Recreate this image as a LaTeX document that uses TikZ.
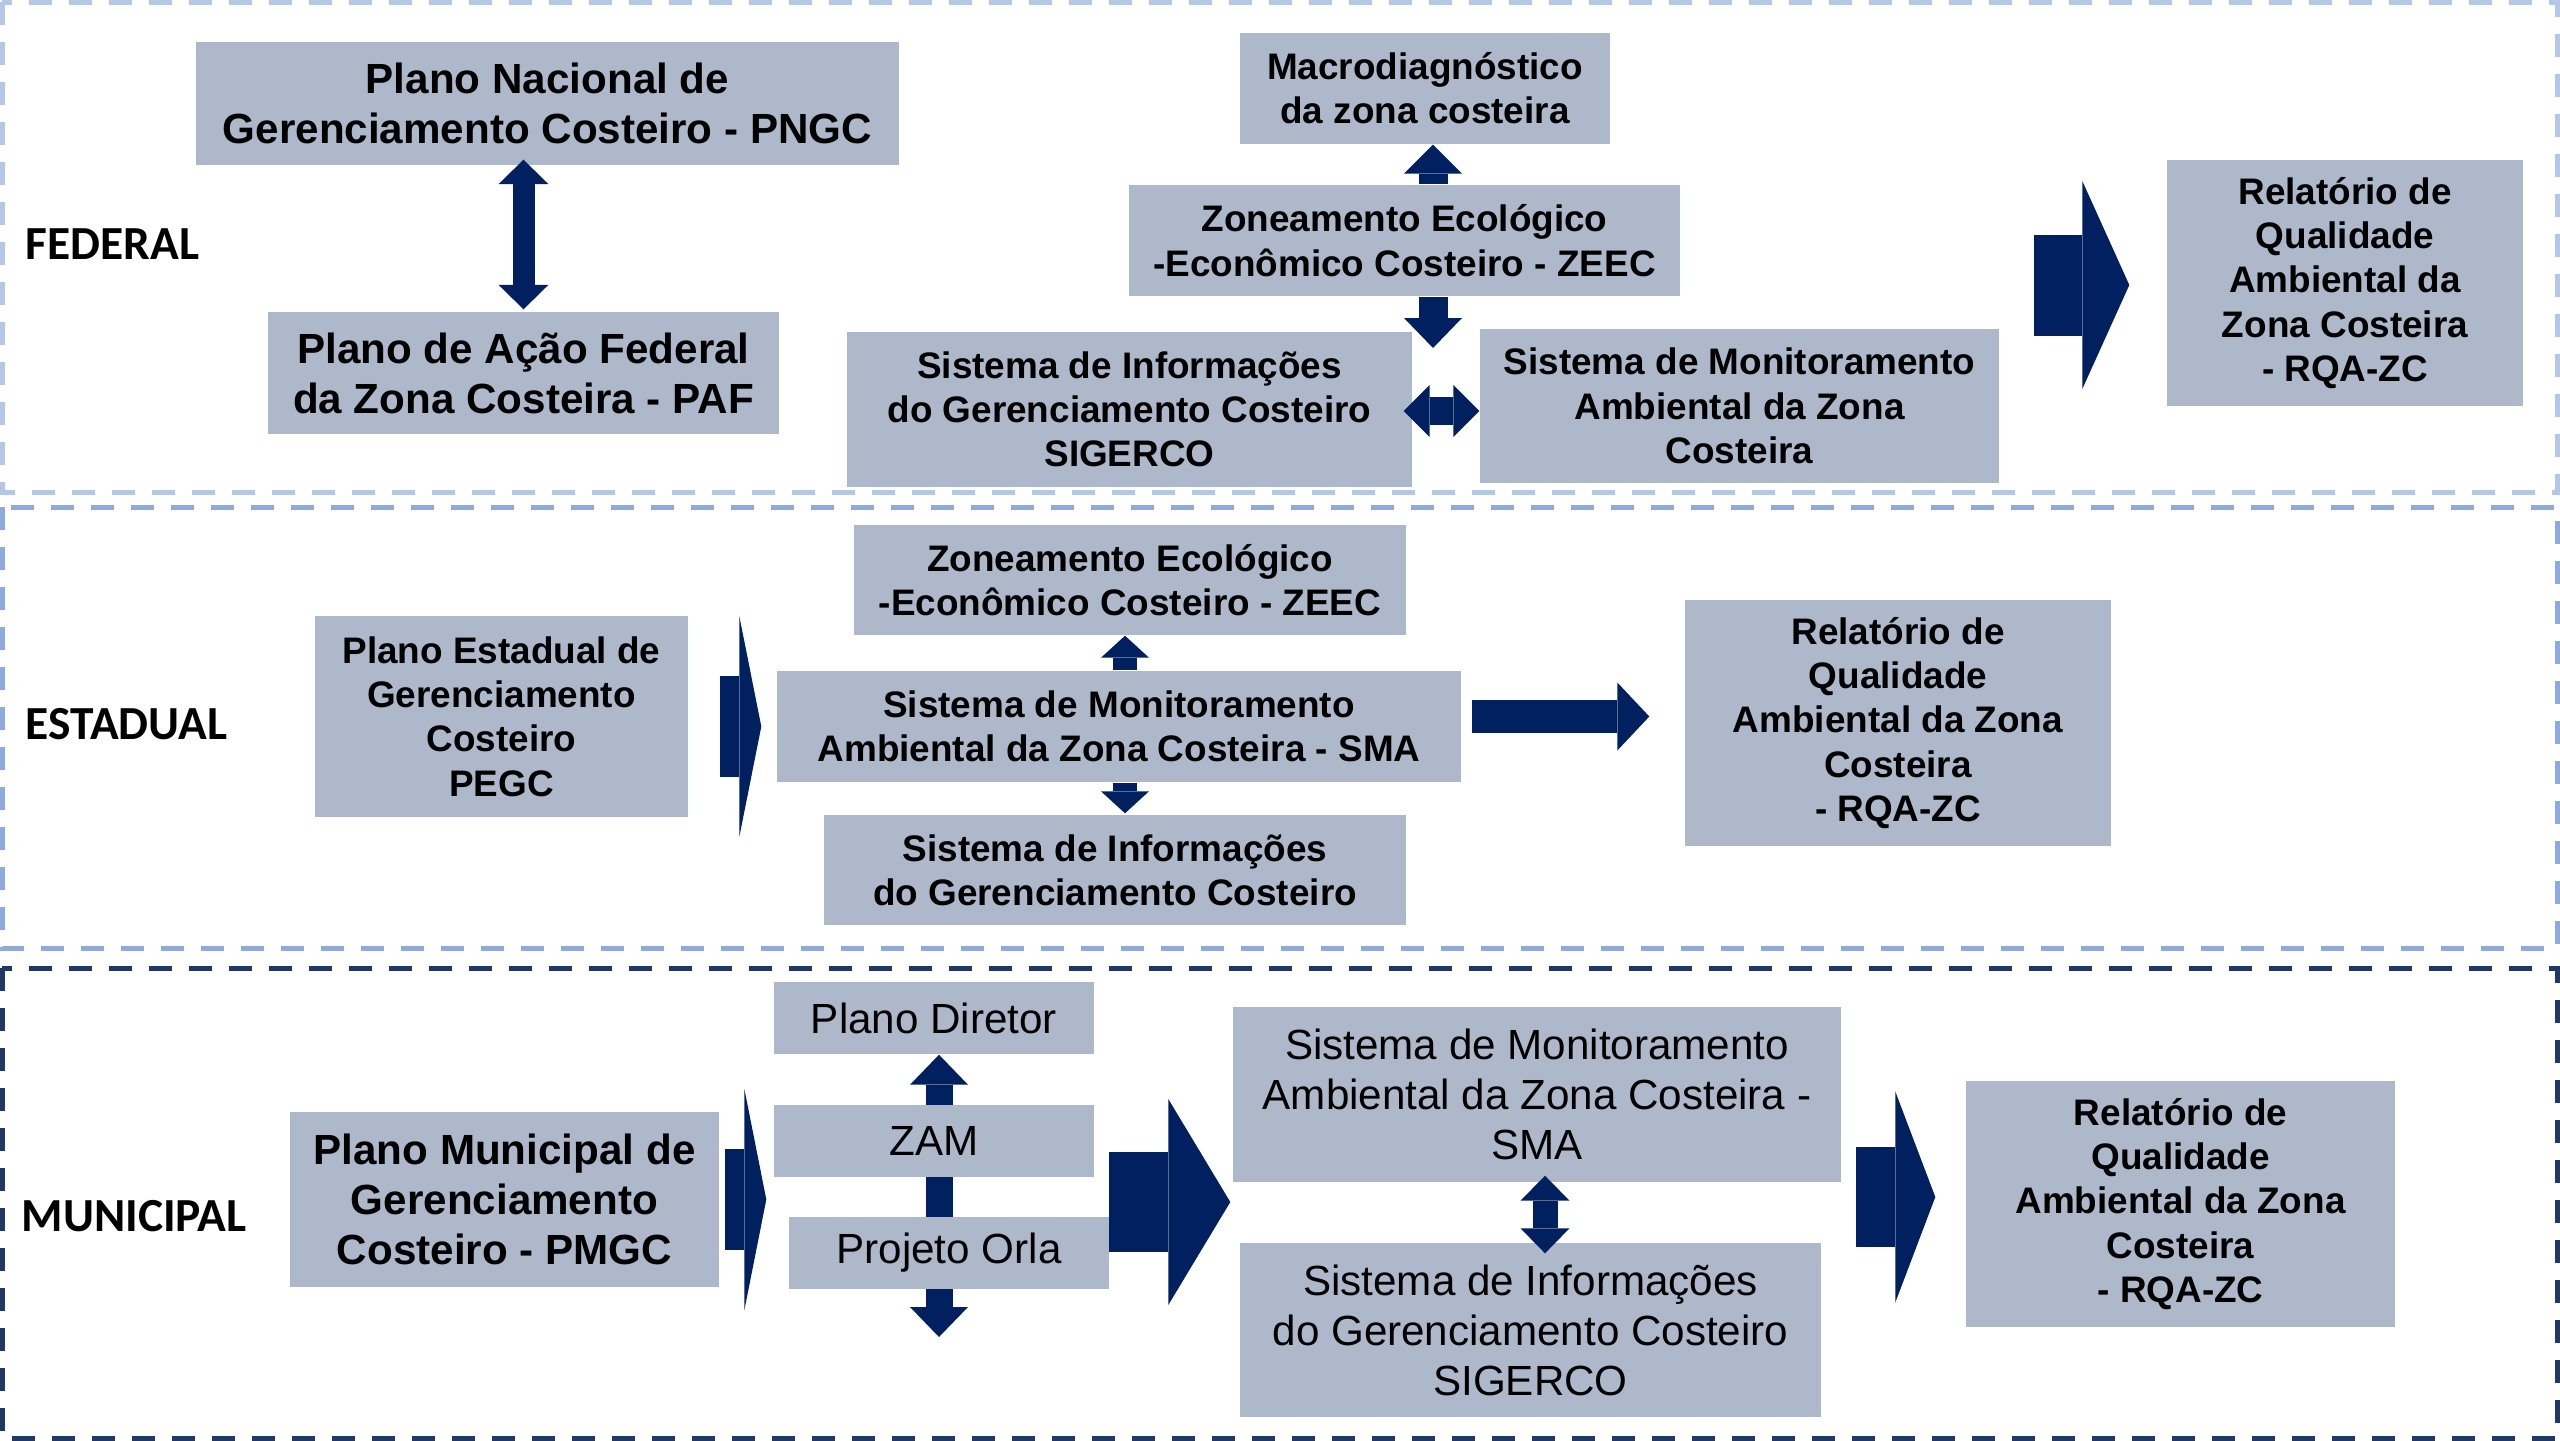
\documentclass[tikz,border=0pt]{standalone}
\usepackage{fontspec}
\setmainfont{Liberation Sans}
\newfontfamily\levelfont{Carlito}
\usepackage{tikz}
\usetikzlibrary{arrows.meta}
\usetikzlibrary{calc}
\usetikzlibrary{positioning, backgrounds}

\definecolor{boxgray}{RGB}{173,185,202}
\definecolor{navy}{RGB}{0,32,96}
\definecolor{fedline}{RGB}{180,199,231}
\definecolor{estline}{RGB}{143,170,220}
\definecolor{munline}{RGB}{32,56,100}

\tikzset{
  box/.style={fill=boxgray, inner sep=0pt, align=center, font=\bfseries\fontsize{10.5}{12.6}\selectfont},
  bigbox/.style={box, font=\bfseries\fontsize{12}{14.2}\selectfont},
  thinbox/.style={box, font=\fontsize{12}{14.2}\selectfont},
  lvl/.style={anchor=west, inner sep=0pt, font=\levelfont\bfseries\fontsize{13.5}{16}\selectfont},
  levelframe/.style={line width=0.05cm, dash pattern=on 0.23cm off 0.17cm},
  blk/.style={draw=navy, line width=#1},
  hd/.style 2 args={-{Triangle[length=#1, width=#2, line width=0pt]}},
  hdd/.style 2 args={{Triangle[length=#1, width=#2, line width=0pt]}-{Triangle[length=#1, width=#2, line width=0pt]}},
}

\begin{document}
\begin{tikzpicture}
    \useasboundingbox (0,0) rectangle (25.6,-14.4);
    \foreach \top/\bot/\col in {0.02/4.92/fedline, 5.07/9.48/estline, 9.68/14.38/munline}{
      \draw[levelframe, draw=\col] (0.02,-\top) rectangle (25.57,-\bot);
    }
    \node[lvl] (fed) at (0.25,-2.44) {FEDERAL};
    \node[lvl] (est) at (0.25,-7.24) {ESTADUAL};
    \node[lvl] (mun) at (0.21,-12.16) {MUNICIPAL};

    % federal
    \node[bigbox, minimum width=7.03cm, minimum height=1.23cm] (pngc) at (5.475,-1.035) {
      Plano Nacional de\\Gerenciamento Costeiro - PNGC};
    \node[bigbox, minimum width=5.11cm, minimum height=1.22cm] (paf) at (5.235,-3.73) {
      Plano de Ação Federal\\da Zona Costeira - PAF};
    \node[box, minimum width=3.70cm, minimum height=1.11cm] (macro) at (14.25,-0.885) {
      Macrodiagnóstico\\da zona costeira};
    \node[box, minimum width=5.51cm, minimum height=1.11cm] (zeecF) at (14.045,-2.405) {
      Zoneamento Ecológico\\-Econômico Costeiro - ZEEC};
    \node[box, minimum width=5.65cm, minimum height=1.55cm] (sigF) at (11.295,-4.095) {
      Sistema de Informações\\do Gerenciamento Costeiro\\SIGERCO};
    \node[box, minimum width=5.19cm, minimum height=1.54cm] (smaF) at (17.395,-4.06) {
      Sistema de Monitoramento\\Ambiental da Zona\\Costeira};
    \node[box, minimum width=3.56cm, minimum height=2.46cm] (rqaF) at (23.45,-2.83) {
      Relatório de\\Qualidade\\Ambiental da\\Zona Costeira\\- RQA-ZC};

    % estadual
    \node[box, minimum width=3.73cm, minimum height=2.01cm] (pegc) at (5.015,-7.165) {
      Plano Estadual de\\Gerenciamento\\Costeiro\\PEGC};
    \node[box, minimum width=5.52cm, minimum height=1.10cm] (zeecE) at (11.30,-5.80) {
      Zoneamento Ecológico\\-Econômico Costeiro - ZEEC};
    \node[box, minimum width=6.84cm, minimum height=1.11cm] (smaE) at (11.19,-7.265) {
      Sistema de Monitoramento\\Ambiental da Zona Costeira - SMA};
    \node[box, minimum width=5.82cm, minimum height=1.10cm] (siE) at (11.15,-8.70) {
      Sistema de Informações\\do Gerenciamento Costeiro};
    \node[box, minimum width=4.26cm, minimum height=2.46cm] (rqaE) at (18.98,-7.23) {
      Relatório de\\Qualidade\\Ambiental da Zona\\Costeira\\- RQA-ZC};

    % municipal
    \node[bigbox, minimum width=4.29cm, minimum height=1.75cm] (pmgc) at (5.045,-11.995) {
      Plano Municipal de\\Gerenciamento\\Costeiro - PMGC};
    \node[thinbox, minimum width=3.20cm, minimum height=0.72cm] (pd) at (9.34,-10.18) {Plano Diretor};
    \node[thinbox, minimum width=3.20cm, minimum height=0.72cm] (zam) at (9.34,-11.41) {ZAM};
    \node[thinbox, minimum width=3.20cm, minimum height=0.72cm] (orla) at (9.49,-12.53) {Projeto Orla};
    \node[thinbox, minimum width=6.08cm, minimum height=1.75cm] (smaM) at (15.37,-10.945) {
      Sistema de Monitoramento\\Ambiental da Zona Costeira -\\SMA};
    \node[thinbox, minimum width=5.81cm, minimum height=1.74cm] (siM) at (15.305,-13.30) {
      Sistema de Informações\\do Gerenciamento Costeiro\\SIGERCO};
    \node[box, minimum width=4.29cm, minimum height=2.46cm] (rqaM) at (21.805,-12.04) {
      Relatório de\\Qualidade\\Ambiental da Zona\\Costeira\\- RQA-ZC};

    \coordinate (zeecTip) at (14.33,-3.48);
    \coordinate (fedIn) at (20.34,-2.85);
    \coordinate (orlaTip) at (9.39,-13.37);
    \coordinate (munIn) at (11.09,-12.02);
    \coordinate (munOut) at (18.56,-11.97);

    % arrows
    \draw[blk=0.22cm, hdd={0.245cm}{0.5cm}] ($(paf.north |- pngc.south)+(0,0.06)$) -- ($(paf.north)+(0,0.02)$);
    \draw[blk=0.29cm, hd={0.29cm}{0.58cm}] ($(macro.south |- zeecF.north)+(0.08,0)$) -- ($(macro.south)+(0.08,0)$);
    \draw[blk=0.29cm, hd={0.3cm}{0.58cm}] (zeecTip |- zeecF.south) -- (zeecTip);
    \draw[blk=0.28cm, hdd={0.26cm}{0.52cm}] ($(sigF.east)+(-0.09,-0.015)$) -- ($(smaF.west)+(0,-0.05)$);
    \draw[blk=1.01cm, hd={0.47cm}{2.08cm}] (fedIn) -- ($(fedIn -| rqaF.west)+(-0.37,0)$);

    \draw[blk=1.01cm, hd={0.22cm}{2.21cm}] ($(pegc.east |- smaE.west)+(0.31,0)$) -- ($(smaE.west)+(-0.15,0)$);
    \draw[blk=0.24cm, hd={0.22cm}{0.48cm}] ($(zeecE.south |- smaE.north)+(-0.05,0)$) -- ($(zeecE.south)+(-0.05,0)$);
    \draw[blk=0.24cm, hd={0.22cm}{0.48cm}] ($(smaE.south)+(0.06,0)$) -- ($(smaE.south |- siE.north)+(0.06,0.01)$);
    \draw[blk=0.33cm, hd={0.32cm}{0.68cm}] ($(smaE.east)+(0.1,0.1)$) -- ($(smaE.east -| rqaE.west)+(-0.35,0.1)$);

    \draw[blk=1.01cm, hd={0.22cm}{2.22cm}] ($(pmgc.east)+(0.05,0)$) -- ($(pmgc.east -| zam.west)+(-0.07,0)$);
    \begin{scope}[on background layer]
      \draw[blk=0.27cm, hdd={0.3cm}{0.58cm}] (orlaTip |- pd.south) -- (orlaTip);
    \end{scope}
    \draw[blk=1.0cm, hd={0.62cm}{2.06cm}] (munIn) -- ($(munIn -| smaM.west)+(-0.02,0)$);
    \draw[blk=0.25cm, hdd={0.25cm}{0.49cm}] ($(smaM.south)+(0.08,0.07)$) -- ($(smaM.south |- siM.north)+(0.08,-0.11)$);
    \draw[blk=1.0cm, hd={0.4cm}{2.11cm}] (munOut) -- ($(munOut -| rqaM.west)+(-0.30,0)$);
\end{tikzpicture}
\end{document}
